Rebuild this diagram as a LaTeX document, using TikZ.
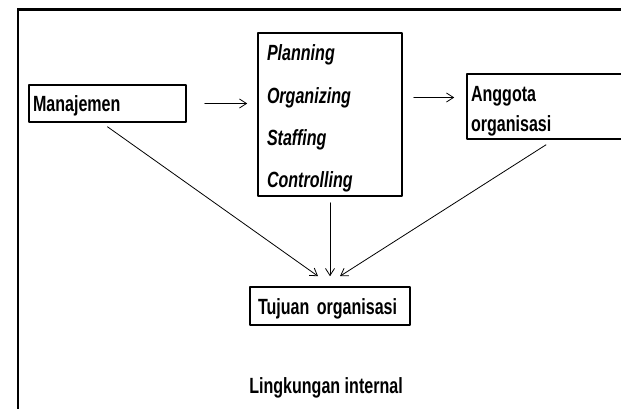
\documentclass[tikz,border=0pt]{standalone}
\usepackage{fontspec}
\newfontfamily\diafont{Liberation Sans}[FakeStretch=0.73,UprightFont=*-Bold,ItalicFont=*-Bold Italic]
\usetikzlibrary{arrows.meta}
\tikzset{
	kotak/.style={draw,line width=1.6pt,inner ysep=0pt,align=left,font=\diafont\fontsize{22}{30}\selectfont},
	panah/.style={->,line width=0.8pt}
}

\begin{document}
\begin{tikzpicture}[line cap=round,line join=round,>={Straight Barb[length=7pt,width=9pt]},x=1pt,y=-1pt]
		\useasboundingbox (0,0) rectangle (621,409);
		\clip (0,0) rectangle (621,409);
		% bingkai luar
		\draw [line width=3pt,line cap=butt] (17,10) -- (640,10);
		\draw [line width=2pt,line cap=butt] (18,9) -- (18,420);
		% kotak
		\node[kotak,minimum width=157,minimum height=37,inner xsep=4pt,text width=149pt] (manajemen) at (107.5,103.5) {\rule{0pt}{21pt}Manajemen};
		\node[kotak,minimum width=144,minimum height=163,inner xsep=9pt,text width=126pt,font=\diafont\itshape\fontsize{22}{42.3}\selectfont] (fungsi) at (330,114.5) {\rule{0pt}{24pt}Planning\\Organizing\\Staffing\\Controlling};
		\node[kotak,minimum width=158,minimum height=65,inner xsep=4pt,text width=150pt] (anggota) at (546,106.5) {\rule{0pt}{24pt}Anggota\\organisasi};
		\node[kotak,minimum width=160,minimum height=38,inner xsep=8pt,text width=144pt] (tujuan) at (330,306) {\rule{0pt}{22pt}Tujuan organisasi};
		\node[font=\diafont\fontsize{22}{30}\selectfont] (lingkungan) at (326,388) {Lingkungan internal};
		% panah
		\draw [panah] ([xshift=18pt]manajemen.east) -- ([xshift=-10pt]manajemen.east -| fungsi.west);
		\draw [panah] ([xshift=11pt,yshift=9pt]fungsi.east |- anggota.west) -- ([xshift=-12pt,yshift=9pt]anggota.west);
		\draw [panah] ([yshift=-4pt]manajemen.south) -- ([xshift=-12pt,yshift=10pt]tujuan.north);
		\draw [panah] ([yshift=-6pt]fungsi.south) -- ([yshift=10pt]tujuan.north);
		\draw [panah] ([yshift=-5pt]anggota.south) -- ([xshift=10pt,yshift=10pt]tujuan.north);
	\end{tikzpicture}
\end{document}
